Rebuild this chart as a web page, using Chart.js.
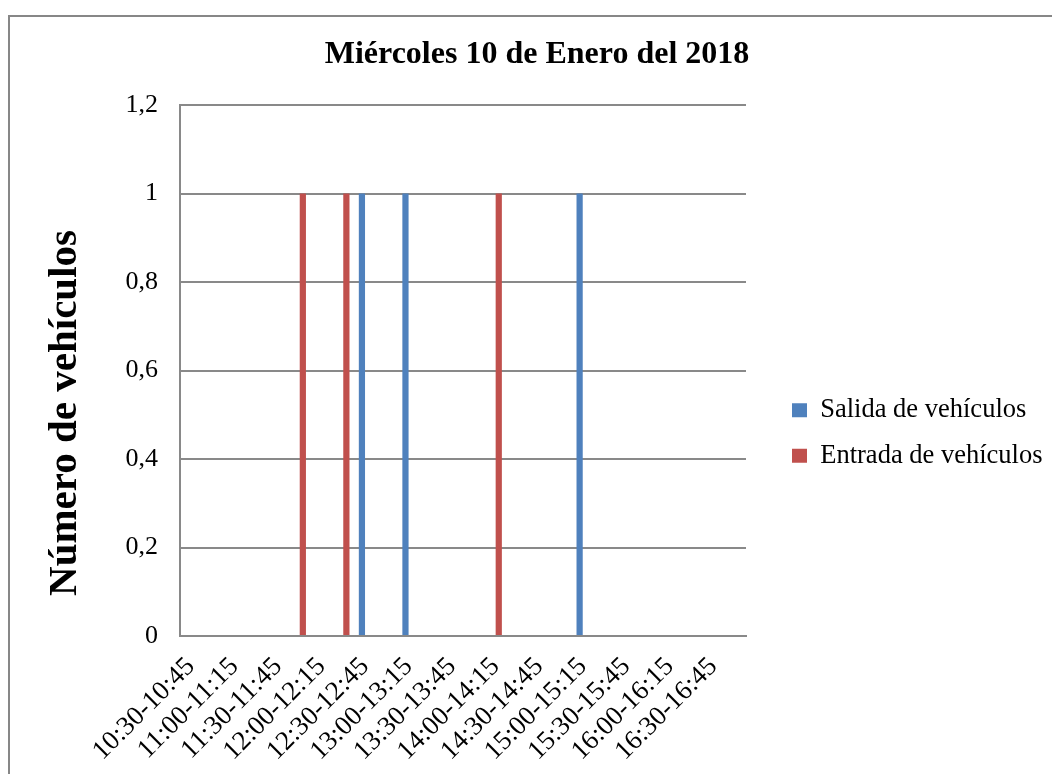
<!DOCTYPE html>
<html>
<head>
<meta charset="utf-8">
<script src="https://cdn.jsdelivr.net/npm/chart.js@4.4.1/dist/chart.umd.min.js"></script>
<style>
  html, body { margin: 0; padding: 0; background: #ffffff; overflow: hidden; }
  #wrap { position: relative; width: 1052px; height: 774px; overflow: hidden; }
  #frame { position: absolute; left: 8px; top: 15px; width: 1200px; height: 900px;
           border-left: 2px solid #878787; border-top: 2px solid #878787; box-sizing: border-box; }
  canvas { position: absolute; left: 0; top: 0; }
</style>
</head>
<body>
<div id="wrap">
  <div id="frame"></div>
  <canvas id="c" width="1052" height="774"></canvas>
</div>
<script>
// ---- data ----
const chartTitle = 'Miércoles 10 de Enero del 2018';
const yAxisTitle = 'Número de vehículos';
const categories = [
  '10:30-10:45','10:45-11:00','11:00-11:15','11:15-11:30','11:30-11:45','11:45-12:00',
  '12:00-12:15','12:15-12:30','12:30-12:45','12:45-13:00','13:00-13:15','13:15-13:30',
  '13:30-13:45','13:45-14:00','14:00-14:15','14:15-14:30','14:30-14:45','14:45-15:00',
  '15:00-15:15','15:15-15:30','15:30-15:45','15:45-16:00','16:00-16:15','16:15-16:30',
  '16:30-16:45','16:45-17:00'
];
const seriesNames = ['Salida de vehículos', 'Entrada de vehículos'];
const salida  = [0,0,0,0,0,0,0,0,1,0,1,0,0,0,0,0,0,0,1,0,0,0,0,0,0,0];
const entrada = [0,0,0,0,0,1,0,1,0,0,0,0,0,0,1,0,0,0,0,0,0,0,0,0,0,0];
const yMin = 0, yMax = 1.2, yStep = 0.2;

// ---- styling ----
const FONT = "'Liberation Serif', 'Times New Roman', serif";
const GRID = '#898989';
Chart.defaults.font.family = FONT;
Chart.defaults.color = '#000000';

const tweak = {
  id: 'tweak',
  afterInit(chart) {
    const lg = chart.legend;
    const origFit = lg.fit.bind(lg);
    lg.fit = function () { origFit(); if (!this.isHorizontal()) this.width = 306; };
  },
  afterLayout(chart) {
    const lg = chart.legend;
    lg.left += 27; lg.right += 27;
    lg.top += 46; lg.bottom += 46;
  },
  afterDraw(chart) {
    const ctx = chart.ctx;
    ctx.save();
    ctx.translate(65, 413);
    ctx.rotate(-Math.PI / 2);
    ctx.font = 'bold 41px ' + FONT;
    ctx.fillStyle = '#000';
    ctx.textAlign = 'center';
    ctx.textBaseline = 'middle';
    ctx.fillText(yAxisTitle, 0, 0);
    ctx.restore();
  }
};

new Chart(document.getElementById('c'), {
  type: 'bar',
  data: {
    labels: categories,
    datasets: [
      { label: seriesNames[0], data: salida,  backgroundColor: '#4F81BD', borderWidth: 0 },
      { label: seriesNames[1], data: entrada, backgroundColor: '#C0504D', borderWidth: 0 }
    ]
  },
  options: {
    responsive: false,
    animation: false,
    devicePixelRatio: 1,
    layout: { padding: { left: 22, right: 0, top: 0, bottom: 0 } },
    datasets: { bar: { categoryPercentage: 0.571, barPercentage: 1 } },
    plugins: {
      title: {
        display: true, text: chartTitle, color: '#000',
        font: { size: 32, weight: 'bold', family: FONT },
        padding: { top: 36, bottom: 30.6 }
      },
      legend: {
        position: 'right',
        labels: { boxWidth: 15, boxHeight: 14, padding: 19, color: '#000',
                  font: { size: 26.5, family: FONT } }
      },
      tooltip: { enabled: false }
    },
    scales: {
      x: {
        grid: { display: false, drawTicks: false },
        border: { display: true, color: GRID, width: 2 },
        ticks: {
          autoSkip: false, maxRotation: 45, minRotation: 45, padding: 15,
          font: { size: 27, family: FONT }, color: '#000',
          callback: function (value, index) { return index % 2 === 0 ? categories[index] : ''; }
        },
        afterFit(scale) { scale.height = 138; }
      },
      y: {
        min: yMin, max: yMax,
        grid: { color: GRID, lineWidth: 2, drawTicks: false },
        border: { display: true, color: GRID, width: 2 },
        ticks: {
          stepSize: yStep, padding: 22,
          font: { size: 26, family: FONT }, color: '#000',
          callback: function (v) {
            const r = Math.round(v * 10) / 10;
            return Number.isInteger(r) ? String(r) : r.toFixed(1).replace('.', ',');
          }
        },
        afterFit(scale) { scale.width = 158; }
      }
    }
  },
  plugins: [tweak]
});
</script>
</body>
</html>
